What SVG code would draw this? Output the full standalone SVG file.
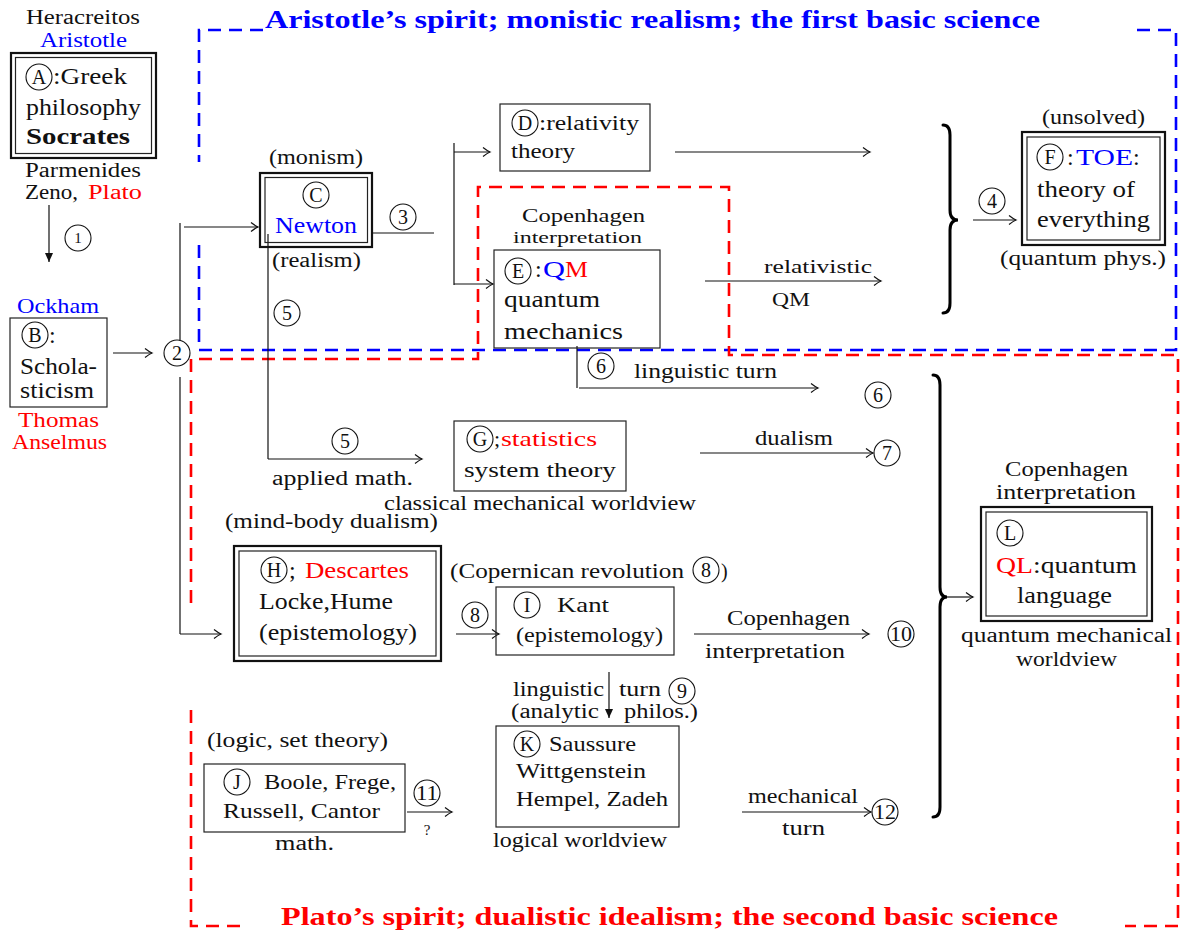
<svg xmlns="http://www.w3.org/2000/svg" width="1183" height="933" viewBox="0 0 1183 933" font-family="'Liberation Serif', 'Times New Roman', Times, 'DejaVu Serif', serif">
<style>
text{font-family:'Liberation Serif','Times New Roman',Times,'DejaVu Serif',serif;fill:#111}
.s15{font-size:15px}.s16{font-size:16px}.s19{font-size:19px}.s20{font-size:20px}.s22{font-size:22px}.s24{font-size:24px}.s25{font-size:25px}
.b{fill:#0000ff}.r{fill:#ff0000}.bold{font-weight:bold}
.c{text-anchor:middle}
.box{fill:none;stroke:#222;stroke-width:1.2}
.box2{fill:none;stroke:#111;stroke-width:2.2}
.cir{fill:none;stroke:#111;stroke-width:1.1}
.ln{fill:none;stroke:#111;stroke-width:1.2}
.ar{marker-end:url(#to)}
.af{marker-end:url(#lat)}
.dashb{fill:none;stroke:#0000ff;stroke-width:2.6;stroke-dasharray:13 8}
.dashr{fill:none;stroke:#ff0000;stroke-width:2.6;stroke-dasharray:13 8}
.brace{fill:none;stroke:#000;stroke-width:3;stroke-linecap:round}
</style>
<defs>
<marker id="to" viewBox="-10 -6 12 12" markerWidth="12" markerHeight="12" refX="0" refY="0" orient="auto" markerUnits="userSpaceOnUse">
<path d="M-7,-4.5 Q-2.5,-1 0,0 Q-2.5,1 -7,4.5" fill="none" stroke="#111" stroke-width="1.2"/>
</marker>
<marker id="lat" viewBox="-10 -6 12 12" markerWidth="12" markerHeight="12" refX="0" refY="0" orient="auto" markerUnits="userSpaceOnUse">
<path d="M-9,-4 L0,0 L-9,4 Z" fill="#111"/>
</marker>
</defs>

<g id="regions">
<path class="dashb" d="M263,30 H199 V162"/>
<path class="dashb" d="M199,245 V350 H1176 V30 H1133"/>
<path class="dashr" d="M191,603 V359 H478 V187 H729 V355 H1178 V926 H1125"/>
<path class="dashr" d="M191,710 V926 H245"/>
<text class="s25 b bold" x="265" y="28" textLength="775" lengthAdjust="spacingAndGlyphs">Aristotle’s spirit; monistic realism; the first basic science</text>
<text class="s25 r bold" x="281" y="925" textLength="777" lengthAdjust="spacingAndGlyphs">Plato’s spirit; dualistic idealism; the second basic science</text>
</g>

<g id="connectors">
<line class="ln af" x1="49" y1="205" x2="49" y2="262"/>
<line class="ln ar" x1="113" y1="353" x2="152" y2="353"/>
<line class="ln" x1="180" y1="223" x2="180" y2="341"/>
<line class="ln" x1="180" y1="377" x2="180" y2="634"/>
<line class="ln ar" x1="184" y1="227" x2="258" y2="227"/>
<line class="ln ar" x1="180" y1="634" x2="221" y2="634"/>
<line class="ln" x1="372" y1="233" x2="434" y2="233"/>
<line class="ln" x1="454" y1="143" x2="454" y2="285"/>
<line class="ln ar" x1="454" y1="152" x2="490" y2="152"/>
<line class="ln ar" x1="454" y1="284" x2="493" y2="284"/>
<line class="ln ar" x1="675" y1="152" x2="870" y2="152"/>
<line class="ln ar" x1="705" y1="281" x2="881" y2="281"/>
<line class="ln" x1="577" y1="346" x2="577" y2="388"/>
<line class="ln ar" x1="579" y1="388" x2="818" y2="388"/>
<line class="ln" x1="268" y1="234" x2="268" y2="459"/>
<line class="ln ar" x1="268" y1="459" x2="422" y2="459"/>
<line class="ln ar" x1="700" y1="453" x2="873" y2="453"/>
<line class="ln ar" x1="456" y1="634" x2="499" y2="634"/>
<line class="ln ar" x1="694" y1="634" x2="869" y2="634"/>
<line class="ln af" x1="609" y1="672" x2="609" y2="718"/>
<line class="ln ar" x1="407" y1="812" x2="452" y2="812"/>
<line class="ln ar" x1="742" y1="812" x2="871" y2="812"/>
<line class="ln ar" x1="973" y1="220" x2="1016" y2="220"/>
<line class="ln ar" x1="947" y1="597" x2="973" y2="597"/>
<path class="brace" d="M943,125 Q950,125 950,135 V210 Q950,220 958,220 Q950,220 950,230 V303 Q950,313 943,313"/>
<path class="brace" d="M933,375 Q940,375 940,385 V587 Q940,597 947,597 Q940,597 940,607 V807 Q940,817 933,817"/>
<circle class="cir" cx="78" cy="238" r="13"/><text class="s15 c" x="78" y="243">1</text>
<circle class="cir" cx="177" cy="353" r="13"/><text class="s20 c" x="177" y="360">2</text>
<circle class="cir" cx="403" cy="217" r="13"/><text class="s20 c" x="403" y="224">3</text>
<circle class="cir" cx="992" cy="201" r="13"/><text class="s20 c" x="992" y="208">4</text>
<circle class="cir" cx="287" cy="313" r="13"/><text class="s20 c" x="287" y="320">5</text>
<circle class="cir" cx="345" cy="441" r="13"/><text class="s20 c" x="345" y="448">5</text>
<circle class="cir" cx="601" cy="366" r="13"/><text class="s20 c" x="601" y="373">6</text>
<circle class="cir" cx="878" cy="395" r="13"/><text class="s20 c" x="878" y="402">6</text>
<circle class="cir" cx="887" cy="453" r="13"/><text class="s20 c" x="887" y="460">7</text>
<circle class="cir" cx="475" cy="615" r="13"/><text class="s20 c" x="475" y="622">8</text>
<circle class="cir" cx="682" cy="691" r="13"/><text class="s20 c" x="682" y="698">9</text>
<circle class="cir" cx="901" cy="634" r="13"/><text class="s20" x="890" y="641" textLength="22" lengthAdjust="spacingAndGlyphs">10</text>
<circle class="cir" cx="427" cy="793" r="13"/><text class="s20" x="416" y="800" textLength="22" lengthAdjust="spacingAndGlyphs">11</text>
<circle class="cir" cx="885" cy="812" r="13"/><text class="s20" x="874" y="819" textLength="22" lengthAdjust="spacingAndGlyphs">12</text>
<text class="s20" x="634" y="378" textLength="143" lengthAdjust="spacingAndGlyphs">linguistic turn</text>
<text class="s20" x="272" y="485" textLength="141" lengthAdjust="spacingAndGlyphs">applied math.</text>
<text class="s19" x="764" y="273" textLength="108" lengthAdjust="spacingAndGlyphs">relativistic</text>
<text class="s19" x="772" y="306" textLength="38" lengthAdjust="spacingAndGlyphs">QM</text>
<text class="s20" x="755" y="445" textLength="78" lengthAdjust="spacingAndGlyphs">dualism</text>
<text class="s20" x="727" y="625" textLength="123" lengthAdjust="spacingAndGlyphs">Copenhagen</text>
<text class="s20" x="705" y="658" textLength="140" lengthAdjust="spacingAndGlyphs">interpretation</text>
<text class="s20" x="513" y="696" textLength="91" lengthAdjust="spacingAndGlyphs">linguistic</text>
<text class="s20" x="619" y="696" textLength="42" lengthAdjust="spacingAndGlyphs">turn</text>
<text class="s20" x="511" y="718" textLength="88" lengthAdjust="spacingAndGlyphs">(analytic</text>
<text class="s20" x="624" y="718" textLength="74" lengthAdjust="spacingAndGlyphs">philos.)</text>
<text class="s15 c" x="427" y="835">?</text>
<text class="s20" x="748" y="803" textLength="110" lengthAdjust="spacingAndGlyphs">mechanical</text>
<text class="s20" x="782" y="835" textLength="43" lengthAdjust="spacingAndGlyphs">turn</text>
<text class="s20" x="450" y="578" textLength="234" lengthAdjust="spacingAndGlyphs">(Copernican revolution</text>
<circle class="cir" cx="706" cy="570" r="13"/><text class="s20 c" x="706" y="577">8</text>
<text class="s20" x="721" y="578">)</text>
</g>

<g id="nodeA">
<text class="s20" x="26" y="24" textLength="114" lengthAdjust="spacingAndGlyphs">Heracreitos</text>
<text class="s20 b" x="40" y="47" textLength="87" lengthAdjust="spacingAndGlyphs">Aristotle</text>
<rect class="box2" x="11" y="53" width="145" height="105"/>
<rect class="box" x="15.5" y="57.5" width="136" height="96"/>
<circle class="cir" cx="39" cy="77" r="13"/><text class="s20 c" x="39" y="84">A</text>
<text class="s24" x="53" y="84" textLength="74" lengthAdjust="spacingAndGlyphs">:Greek</text>
<text class="s24" x="26" y="115" textLength="115" lengthAdjust="spacingAndGlyphs">philosophy</text>
<text class="s24 bold" x="26" y="144" textLength="104" lengthAdjust="spacingAndGlyphs">Socrates</text>
<text class="s20" x="25" y="177" textLength="116" lengthAdjust="spacingAndGlyphs">Parmenides</text>
<text class="s20" x="25" y="199" textLength="53" lengthAdjust="spacingAndGlyphs">Zeno,</text>
<text class="s20 r" x="88" y="199" textLength="54" lengthAdjust="spacingAndGlyphs">Plato</text>
</g>

<g id="nodeB">
<text class="s22 b" x="17" y="313" textLength="82" lengthAdjust="spacingAndGlyphs">Ockham</text>
<rect class="box" x="10" y="318" width="97" height="89"/>
<circle class="cir" cx="35" cy="335" r="13"/><text class="s20 c" x="35" y="342">B</text>
<text class="s24" x="49" y="343">:</text>
<text class="s24" x="20" y="374" textLength="77" lengthAdjust="spacingAndGlyphs">Schola-</text>
<text class="s24" x="20" y="398" textLength="74" lengthAdjust="spacingAndGlyphs">sticism</text>
<text class="s20 r" x="18" y="427" textLength="81" lengthAdjust="spacingAndGlyphs">Thomas</text>
<text class="s20 r" x="12" y="449" textLength="95" lengthAdjust="spacingAndGlyphs">Anselmus</text>
</g>

<g id="nodeC">
<text class="s20" x="269" y="164" textLength="94" lengthAdjust="spacingAndGlyphs">(monism)</text>
<rect class="box2" x="260" y="173" width="112" height="74"/>
<rect class="box" x="265" y="177.5" width="102.5" height="65"/>
<circle class="cir" cx="316" cy="195" r="13"/><text class="s20 c" x="316" y="202">C</text>
<text class="s24 b" x="275" y="233" textLength="82" lengthAdjust="spacingAndGlyphs">Newton</text>
<text class="s20" x="272" y="267" textLength="89" lengthAdjust="spacingAndGlyphs">(realism)</text>
</g>

<g id="nodeD">
<rect class="box" x="500" y="104" width="150" height="67"/>
<circle class="cir" cx="525" cy="123" r="13"/><text class="s20 c" x="525" y="130">D</text>
<text class="s20" x="539" y="130" textLength="100" lengthAdjust="spacingAndGlyphs">:relativity</text>
<text class="s20" x="511" y="158" textLength="64" lengthAdjust="spacingAndGlyphs">theory</text>
</g>

<g id="nodeE">
<text class="s19" x="522" y="222" textLength="123" lengthAdjust="spacingAndGlyphs">Copenhagen</text>
<text class="s16" x="513" y="243" textLength="129" lengthAdjust="spacingAndGlyphs">interpretation</text>
<rect class="box" x="494" y="250" width="166" height="98"/>
<circle class="cir" cx="518" cy="271" r="13"/><text class="s20 c" x="518" y="278">E</text>
<text class="s24" x="535" y="277">:</text>
<text class="s24 b" x="543" y="277" textLength="22" lengthAdjust="spacingAndGlyphs">Q</text>
<text class="s24 r" x="565" y="277" textLength="23" lengthAdjust="spacingAndGlyphs">M</text>
<text class="s24" x="504" y="307" textLength="96" lengthAdjust="spacingAndGlyphs">quantum</text>
<text class="s24" x="504" y="339" textLength="119" lengthAdjust="spacingAndGlyphs">mechanics</text>
</g>

<g id="nodeF">
<text class="s20" x="1042" y="124" textLength="103" lengthAdjust="spacingAndGlyphs">(unsolved)</text>
<rect class="box2" x="1022" y="132" width="143" height="113"/>
<rect class="box" x="1027" y="137" width="133" height="103"/>
<circle class="cir" cx="1050" cy="157" r="13"/><text class="s20 c" x="1050" y="164">F</text>
<text class="s24" x="1067" y="165">:</text>
<text class="s24 b" x="1076" y="165" textLength="57" lengthAdjust="spacingAndGlyphs">TOE</text>
<text class="s24" x="1133" y="165">:</text>
<text class="s24" x="1037" y="197" textLength="98" lengthAdjust="spacingAndGlyphs">theory of</text>
<text class="s24" x="1037" y="227" textLength="113" lengthAdjust="spacingAndGlyphs">everything</text>
<text class="s20" x="1000" y="265" textLength="166" lengthAdjust="spacingAndGlyphs">(quantum phys.)</text>
</g>

<g id="nodeG">
<rect class="box" x="454" y="421" width="172" height="70"/>
<circle class="cir" cx="480" cy="439" r="13"/><text class="s20 c" x="480" y="446">G</text>
<text class="s22" x="494" y="446">;</text>
<text class="s22 r" x="501" y="446" textLength="96" lengthAdjust="spacingAndGlyphs">statistics</text>
<text class="s22" x="464" y="477" textLength="152" lengthAdjust="spacingAndGlyphs">system theory</text>
<text class="s20" x="384" y="510" textLength="312" lengthAdjust="spacingAndGlyphs">classical mechanical worldview</text>
</g>

<g id="nodeH">
<text class="s20" x="225" y="528" textLength="213" lengthAdjust="spacingAndGlyphs">(mind-body dualism)</text>
<rect class="box2" x="234" y="546" width="207" height="115"/>
<rect class="box" x="239" y="551" width="197" height="105"/>
<circle class="cir" cx="274" cy="570" r="13"/><text class="s20 c" x="274" y="577">H</text>
<text class="s24" x="289" y="578">;</text>
<text class="s24 r" x="305" y="578" textLength="104" lengthAdjust="spacingAndGlyphs">Descartes</text>
<text class="s24" x="259" y="609" textLength="134" lengthAdjust="spacingAndGlyphs">Locke,Hume</text>
<text class="s24" x="259" y="640" textLength="158" lengthAdjust="spacingAndGlyphs">(epistemology)</text>
</g>

<g id="nodeI">
<rect class="box" x="496" y="587" width="178" height="68"/>
<circle class="cir" cx="527" cy="605" r="13"/><text class="s20 c" x="527" y="612">I</text>
<text class="s22" x="557" y="612" textLength="52" lengthAdjust="spacingAndGlyphs">Kant</text>
<text class="s20" x="516" y="642" textLength="147" lengthAdjust="spacingAndGlyphs">(epistemology)</text>
</g>

<g id="nodeJ">
<text class="s20" x="207" y="747" textLength="181" lengthAdjust="spacingAndGlyphs">(logic, set theory)</text>
<rect class="box" x="204" y="764" width="201" height="68"/>
<circle class="cir" cx="237" cy="782" r="13"/><text class="s20 c" x="237" y="789">J</text>
<text class="s22" x="264" y="789" textLength="132" lengthAdjust="spacingAndGlyphs">Boole, Frege,</text>
<text class="s22" x="223" y="818" textLength="157" lengthAdjust="spacingAndGlyphs">Russell, Cantor</text>
<text class="s20" x="275" y="850" textLength="59" lengthAdjust="spacingAndGlyphs">math.</text>
</g>

<g id="nodeK">
<rect class="box" x="496" y="726" width="183" height="101"/>
<circle class="cir" cx="527" cy="744" r="13"/><text class="s20 c" x="527" y="751">K</text>
<text class="s22" x="549" y="751" textLength="87" lengthAdjust="spacingAndGlyphs">Saussure</text>
<text class="s22" x="516" y="778" textLength="130" lengthAdjust="spacingAndGlyphs">Wittgenstein</text>
<text class="s22" x="516" y="806" textLength="152" lengthAdjust="spacingAndGlyphs">Hempel, Zadeh</text>
<text class="s20" x="493" y="847" textLength="174" lengthAdjust="spacingAndGlyphs">logical worldview</text>
</g>

<g id="nodeL">
<text class="s20" x="1005" y="476" textLength="123" lengthAdjust="spacingAndGlyphs">Copenhagen</text>
<text class="s20" x="996" y="499" textLength="140" lengthAdjust="spacingAndGlyphs">interpretation</text>
<rect class="box2" x="981" y="507" width="171" height="114"/>
<rect class="box" x="986" y="512" width="161" height="104"/>
<circle class="cir" cx="1010" cy="533" r="13"/><text class="s20 c" x="1010" y="540">L</text>
<text class="s24 r" x="996" y="573" textLength="37" lengthAdjust="spacingAndGlyphs">QL</text>
<text class="s24" x="1033" y="573" textLength="104" lengthAdjust="spacingAndGlyphs">:quantum</text>
<text class="s24" x="1017" y="603" textLength="95" lengthAdjust="spacingAndGlyphs">language</text>
<text class="s20" x="961" y="642" textLength="211" lengthAdjust="spacingAndGlyphs">quantum mechanical</text>
<text class="s20" x="1016" y="666" textLength="101" lengthAdjust="spacingAndGlyphs">worldview</text>
</g>
</svg>
